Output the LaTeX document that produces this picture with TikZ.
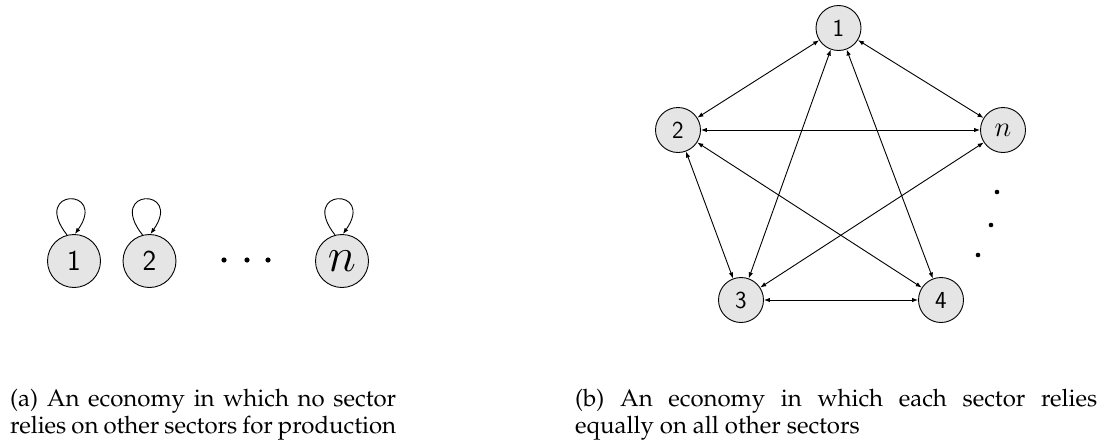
\RequirePackage{fix-cm}
\documentclass[tikz,border=0pt]{standalone}
\usepackage[T1]{fontenc}
\usepackage{palatino}
\usetikzlibrary{arrows.meta}
\hyphenpenalty=10000
\exhyphenpenalty=10000
\newcommand{\nodesans}{\fontencoding{OT1}\fontfamily{cmss}\fontseries{m}\fontshape{n}\selectfont}
\tikzset{
  bignode/.style={circle,draw,fill=gray!20,line width=0.9pt,minimum size=53pt,inner sep=0pt,font=\fontsize{29}{30}\nodesans},
  smallnode/.style={circle,draw,fill=gray!20,line width=0.9pt,minimum size=45pt,inner sep=0pt,font=\fontsize{24.5}{26}\nodesans},
  tip/.style={-{Latex[length=6pt,width=4.5pt]},line width=0.9pt},
  dbl/.style={{Latex[length=6pt,width=4.5pt]}-{Latex[length=6pt,width=4.5pt]},line width=0.9pt},
  capt/.style={anchor=base west,inner sep=0pt,align=justify,font=\fontsize{24}{27.5}\selectfont}
}
\begin{document}
\begin{tikzpicture}[x=1pt,y=-1pt]
\useasboundingbox (0,0) rectangle (1101,442);
% (a)
\node[bignode] (a1) at (74,261) {1};
\node[bignode] (a2) at (149.5,261) {2};
\node[bignode] (an) at (342,261) {\fontsize{48}{50}\selectfont$n$};
\foreach \p in {a1,a2,an}{
  \draw[tip] (\p.105) .. controls +(-37,-47) and +(33,-47) .. (\p.88);
}
\foreach \x in {224,247,268}{\fill (\x,260) circle (2.6pt);}
% (b)
\node[smallnode] (b1) at (838.5,28) {1};
\node[smallnode] (b2) at (678,130) {2};
\node[smallnode] (bn) at (1003,130) {\fontsize{28.5}{30}\selectfont$n$};
\node[smallnode] (b3) at (741,300) {3};
\node[smallnode] (b4) at (941,300) {4};
\foreach \u/\v in {b1/b2,b1/bn,b1/b3,b1/b4,b2/bn,b2/b3,b2/b4,bn/b3,b3/b4}{
  \draw[dbl] (\u) -- (\v);
}
\fill (997,192) circle (2.3pt);
\fill (991,225) circle (2.3pt);
\fill (978,255) circle (2.3pt);
% captions
\node[capt,text width=386pt] (ca) at (10,406) {(a) An economy in which no sector relies on other sectors for production};
\node[capt,text width=522pt] (cb) at (575,406) {(b) An economy in which each sector relies equally on all other sectors};
\end{tikzpicture}
\end{document}
